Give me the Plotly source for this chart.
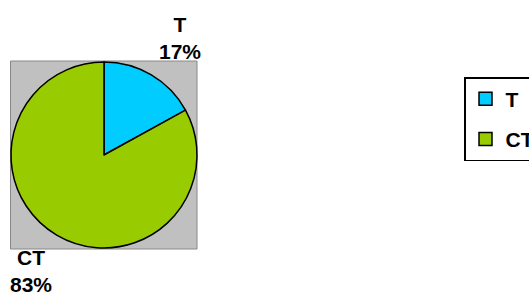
import plotly.graph_objects as go

labels = ["T", "CT"]
values = [17, 83]
colors = ["#00CCFF", "#99CC00"]

W, H = 529, 293
FONT = "Liberation Sans, Arial, sans-serif"

def px(x):
    return x / W

def py(y):
    return 1 - y / H

total = sum(values)
pcts = [round(v / total * 100) for v in values]

fig = go.Figure()
fig.add_trace(go.Pie(
    labels=labels, values=values, sort=False, direction="clockwise",
    rotation=0, textinfo="none", hoverinfo="label+percent",
    marker=dict(colors=colors, line=dict(color="black", width=1.5)),
    domain=dict(x=[px(11), px(197)], y=[py(248), py(62)]),
    showlegend=False,
))

# legend entries (one group per label to get Excel-like spacing)
for lab, col in zip(labels, colors):
    fig.add_trace(go.Scatter(
        x=[None], y=[None], mode="markers",
        name=lab + "\u00a0" * 4, legendgroup=lab,
        marker=dict(symbol="square", size=13, color=col,
                    line=dict(color="black", width=1.5)),
        showlegend=True,
    ))

# outside labels (Excel-style)
label_pos = {"T": (180, 37.5), "CT": (31, 271)}
for lab, p in zip(labels, pcts):
    x, y = label_pos[lab]
    fig.add_annotation(
        x=px(x), y=py(y), xref="paper", yref="paper",
        text=f"<b>{lab}</b><br><b>{p}%</b>", showarrow=False,
        xanchor="center", yanchor="middle", align="center",
        font=dict(family=FONT, size=21, color="black"),
    )

fig.add_shape(type="rect", xref="paper", yref="paper",
              x0=px(10.5), x1=px(197), y0=py(249), y1=py(61),
              fillcolor="#C0C0C0", line=dict(color="#888888", width=1),
              layer="below")

fig.update_layout(
    width=W, height=H,
    margin=dict(l=0, r=0, t=0, b=0, autoexpand=False),
    paper_bgcolor="white", plot_bgcolor="rgba(0,0,0,0)",
    xaxis=dict(visible=False), yaxis=dict(visible=False),
    font=dict(family=FONT, size=21, color="black"),
    legend=dict(
        x=px(464), y=py(77), xanchor="left", yanchor="top",
        bordercolor="black", borderwidth=1.5, bgcolor="white",
        font=dict(family=FONT, size=21, color="black", weight="bold"),
        tracegroupgap=10, traceorder="grouped", itemclick=False,
    ),
)

fig.write_html(
    "out.html",
    config={"displayModeBar": False},
    post_script="document.body.style.margin='0';document.body.style.overflow='hidden';",
)
